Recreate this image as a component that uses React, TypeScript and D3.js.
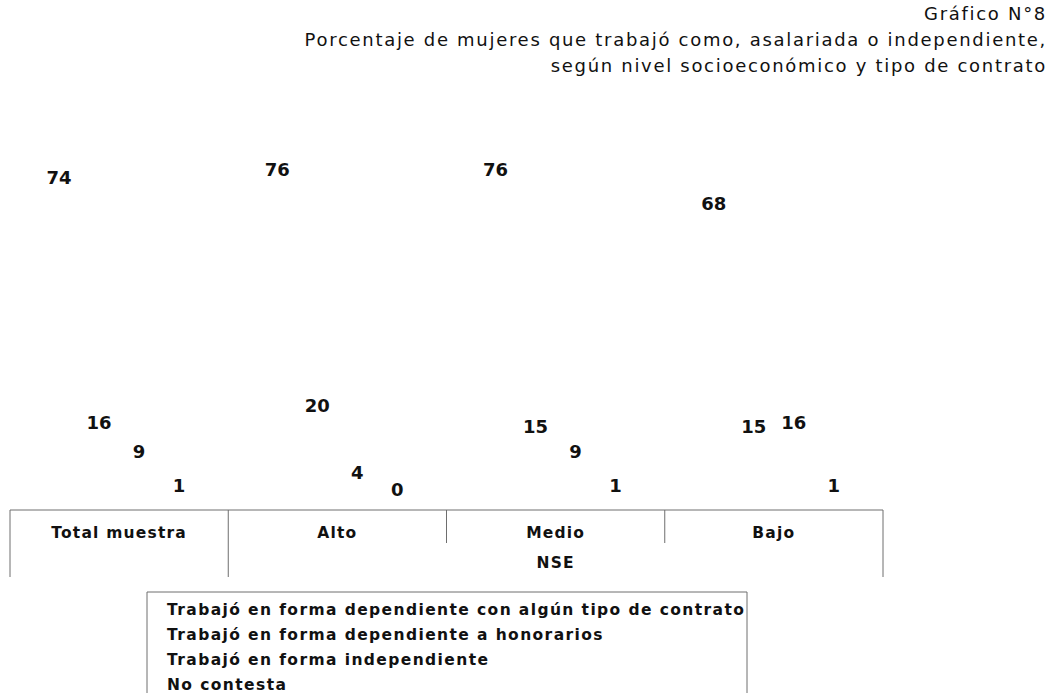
import React from 'react';
import * as d3 from 'd3';

const categories = ['Total muestra', 'Alto', 'Medio', 'Bajo'];
const seriesNames = [
  'Trabajó en forma dependiente con algún tipo de contrato',
  'Trabajó en forma dependiente a honorarios',
  'Trabajó en forma independiente',
  'No contesta',
];
const contrato = [74, 76, 76, 68];
const honorarios = [16, 20, 15, 15];
const independiente = [9, 4, 9, 16];
const noContesta = [1, 0, 1, 1];
const titleLines = [
  'Gráfico N°8',
  'Porcentaje de mujeres que trabajó como, asalariada o independiente,',
  'según nivel socioeconómico y tipo de contrato',
];

const W = 1052;
const H = 693;
const lineColor = '#6e6e6e';
const fontFam = "'DejaVu Sans', Verdana, sans-serif";

const App = () => {
  const values = [contrato, honorarios, independiente, noContesta];

  const x0 = d3.scaleBand().domain(categories).range([10, 883]);
  const x1 = d3
    .scaleBand()
    .domain(seriesNames)
    .range([0, x0.step()])
    .paddingInner(0)
    .paddingOuter(0.728);
  const y = d3.scaleLinear().domain([0, 100]).range([510, 89]);

  const tableTop = 510;
  const edges = categories.map((c) => x0(c) as number).concat([883]);

  return (
    <svg width={W} height={H} style={{ position: 'absolute', left: 0, top: 0, background: '#fff' }}>
      {titleLines.map((t, i) => (
        <text
          key={t}
          x={1047}
          y={20 + i * 26}
          textAnchor="end"
          fontFamily={fontFam}
          fontSize={18}
          letterSpacing={1.7}
          fill="#111"
        >
          {t}
        </text>
      ))}

      {/* bars (white in the original) and value labels */}
      {categories.map((c, ci) => (
        <g key={c} transform={`translate(${x0(c)},0)`}>
          {seriesNames.map((s, si) => {
            const v = values[si][ci];
            const bx = x1(s) as number;
            return (
              <g key={s}>
                <rect x={bx} y={y(v)} width={x1.bandwidth()} height={y(0) - y(v)} fill="#fff" />
                <text
                  x={bx + x1.bandwidth() / 2}
                  y={y(v) - 14}
                  textAnchor="middle"
                  fontFamily={fontFam}
                  fontWeight="bold"
                  fontSize={18}
                  fill="#111"
                >
                  {v}
                </text>
              </g>
            );
          })}
        </g>
      ))}

      {/* category table */}
      <line x1={10} x2={883} y1={tableTop} y2={tableTop} stroke={lineColor} />
      {edges.map((ex, i) => {
        const full = i === 0 || i === 1 || i === edges.length - 1;
        return (
          <line
            key={i}
            x1={ex}
            x2={ex}
            y1={tableTop}
            y2={full ? 577 : 543}
            stroke={lineColor}
          />
        );
      })}
      {categories.map((c) => (
        <text
          key={c}
          x={(x0(c) as number) + x0.bandwidth() / 2}
          y={538}
          textAnchor="middle"
          fontFamily={fontFam}
          fontWeight="bold"
          fontSize={15.5}
          letterSpacing={1.2}
          fill="#111"
        >
          {c}
        </text>
      ))}
      <text
        x={((x0('Alto') as number) + 883) / 2}
        y={568}
        textAnchor="middle"
        fontFamily={fontFam}
        fontWeight="bold"
        fontSize={15.5}
        letterSpacing={1.2}
        fill="#111"
      >
        NSE
      </text>

      {/* legend */}
      <line x1={147} x2={747} y1={592} y2={592} stroke={lineColor} />
      <line x1={147} x2={147} y1={592} y2={H} stroke={lineColor} />
      <line x1={747} x2={747} y1={592} y2={H} stroke={lineColor} />
      {seriesNames.map((s, i) => (
        <g key={s} transform={`translate(153,${609 + i * 25})`}>
          <rect x={0} y={-6} width={10} height={10} fill="#fff" />
          <text
            x={14}
            y={6}
            fontFamily={fontFam}
            fontWeight="bold"
            fontSize={15.5}
            letterSpacing={1.4}
            fill="#111"
          >
            {s}
          </text>
        </g>
      ))}
    </svg>
  );
};

export default App;
